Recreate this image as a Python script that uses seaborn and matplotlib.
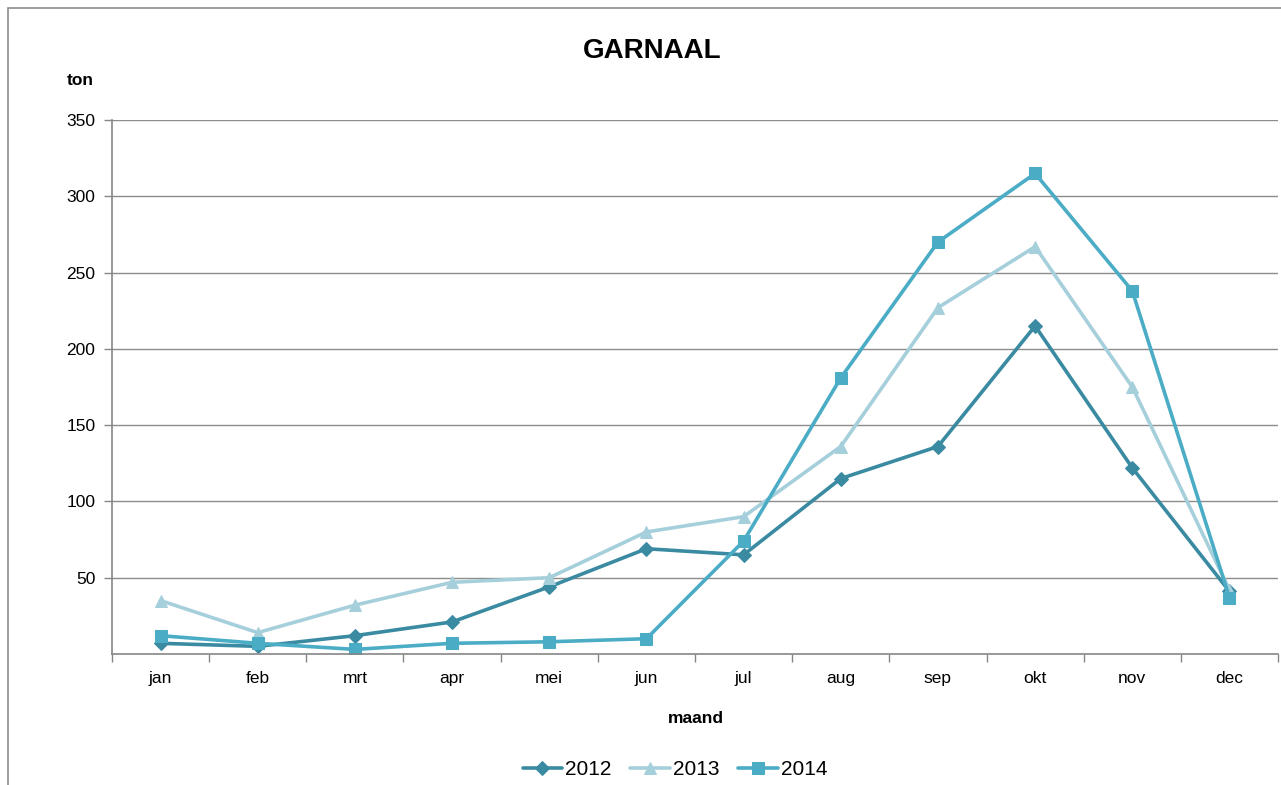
import numpy as np
import pandas as pd
import seaborn as sns
from matplotlib import pyplot as plt
import matplotlib.patches as patches

sns.set_style("white")
plt.rcParams["font.family"] = ["Liberation Sans", "DejaVu Sans"]
plt.rcParams["text.color"] = "black"

# data (ton per maand)
months = ["jan", "feb", "mrt", "apr", "mei", "jun", "jul", "aug", "sep", "okt", "nov", "dec"]
years = ["2012", "2013", "2014"]
ton_2012 = [7, 5, 12, 21, 44, 69, 65, 115, 136, 215, 122, 41]
ton_2013 = [35, 14, 32, 47, 50, 80, 90, 136, 227, 267, 175, 42]
ton_2014 = [12, 7, 3, 7, 8, 10, 74, 181, 270, 315, 238, 37]
y_ticks = [50, 100, 150, 200, 250, 300, 350]

df = pd.DataFrame(
    {
        "maand": months * 3,
        "ton": ton_2012 + ton_2013 + ton_2014,
        "jaar": [y for y in years for _ in months],
    }
)

palette = {"2012": "#3A8BA2", "2013": "#A6CFDC", "2014": "#4BACC6"}
markers = {"2012": "D", "2013": "^", "2014": "s"}
msizes = {"2012": 7, "2013": 9, "2014": 9}

fig = plt.figure(figsize=(12.81, 7.85), dpi=100)
ax = fig.add_axes([0.0874, 0.1669, 0.9103, 0.6802])

for yr in years:
    sns.lineplot(
        data=df[df["jaar"] == yr],
        x="maand",
        y="ton",
        color=palette[yr],
        marker=markers[yr],
        markersize=msizes[yr],
        markeredgecolor=palette[yr],
        linewidth=2.6,
        ax=ax,
        label=yr,
        sort=False,
    )

ax.set_xlim(-0.5, len(months) - 0.5)
ax.set_ylim(0, 350)
ax.set_yticks(y_ticks)
ax.set_xticks(np.arange(len(months)))
ax.set_xticklabels(months)
ax.set_xticks(np.arange(len(months) + 1) - 0.5, minor=True)
ax.tick_params(axis="x", which="major", length=0, pad=12, labelsize=12.5, labelcolor="black")
ax.tick_params(axis="x", which="minor", length=6, width=1, color="#868686", direction="out", bottom=True)
ax.tick_params(axis="y", length=6, width=1, color="#868686", direction="out", left=True,
               labelsize=12.5, pad=6, labelcolor="black")
ax.yaxis.grid(True, color="#8c8c8c", linewidth=1)
ax.xaxis.grid(False)
for s in ["top", "right"]:
    ax.spines[s].set_visible(False)
for s in ["left", "bottom"]:
    ax.spines[s].set_color("#868686")
    ax.spines[s].set_linewidth(1.2)
ax.set_xlabel("")
ax.set_ylabel("")

ax.get_legend().remove()
handles, labels = ax.get_legend_handles_labels()
fig.legend(
    handles,
    labels,
    loc="center",
    bbox_to_anchor=(0.527, 0.02),
    ncol=3,
    frameon=False,
    fontsize=15,
    handlelength=1.9,
    columnspacing=0.9,
    handletextpad=0.15,
)

fig.text(0.509, 0.935, "GARNAAL", ha="center", va="center", fontsize=20, fontweight="bold")
fig.text(0.063, 0.898, "ton", ha="center", va="center", fontsize=12.5, fontweight="bold")
fig.text(0.543, 0.085, "maand", ha="center", va="center", fontsize=12.5, fontweight="bold")

# outer chart frame
fig.patches.append(
    patches.Rectangle(
        (0.006, -0.05), 1.2, 1.04, transform=fig.transFigure,
        fill=False, edgecolor="#8c8c8c", linewidth=1.2
    )
)

fig.savefig("out.png", dpi=100)
plt.close()
